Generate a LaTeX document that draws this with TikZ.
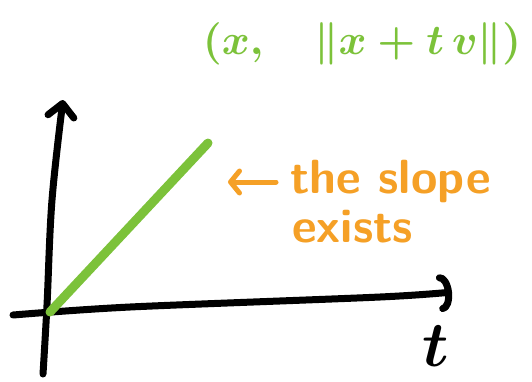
\documentclass[tikz,border=0pt]{standalone}
\usepackage{amsmath, amssymb}
\usepackage{tikz}
\usetikzlibrary{arrows.meta, positioning, calc}
\definecolor{SketchGreen}{RGB}{124,194,58}
\definecolor{SketchOrange}{RGB}{245,160,38}

\begin{document}
\begin{tikzpicture}[x=1pt, y=-1pt, line cap=round, line join=round]
        \useasboundingbox (0,0) rectangle (532,381);

        % Points of the axes
        \coordinate (ybot) at (43,374);
        \coordinate (origin) at (50,312);
        \coordinate (ytop) at (63,100);
        \coordinate (xleft) at (13,315);
        \coordinate (xend) at (452,292);
        \coordinate (slopeend) at (208,143);

        % Vertical axis
        \draw[line width=7pt, -{Straight Barb[length=13pt, width=26pt, round]}]
            plot[smooth, tension=0.6] coordinates {(ybot) (47,305) (52,200) (ytop)};

        % Horizontal axis with its hooked tip
        \draw[line width=7pt, -{Arc Barb[length=11pt, width=38pt, round]}]
            plot[smooth] coordinates {(xleft) (130,307) (380,297) (xend)};

        % Green line from the origin
        \draw[SketchGreen, line width=9pt] (origin) -- (slopeend);

        % Label of the curve
        \node[SketchGreen, inner sep=0pt, scale=4.25, font=\boldmath] (pair) at (362,44)
            {$(x,\quad\|x+t\,v\|)$};

        % Remark on the slope
        \node[SketchOrange, anchor=base west, inner sep=2pt] (theslope) at (288,193)
            {\fontsize{48}{48}\selectfont\sffamily\bfseries the slope};
        \node[SketchOrange, anchor=base west, inner sep=2pt] (exists) at (290,242)
            {\fontsize{48}{48}\selectfont\sffamily\bfseries exists};
        \coordinate (arrowtip) at (228,182);
        \draw[SketchOrange, line width=5pt, -{Straight Barb[length=9pt, width=22pt, round]}]
            (theslope.west |- arrowtip) ++(-12,0) -- (arrowtip);

        % Axis name
        \node[inner sep=0pt, scale=6.4, font=\boldmath] (tname) at (436,346)
            {$t$};
\end{tikzpicture}
\end{document}
